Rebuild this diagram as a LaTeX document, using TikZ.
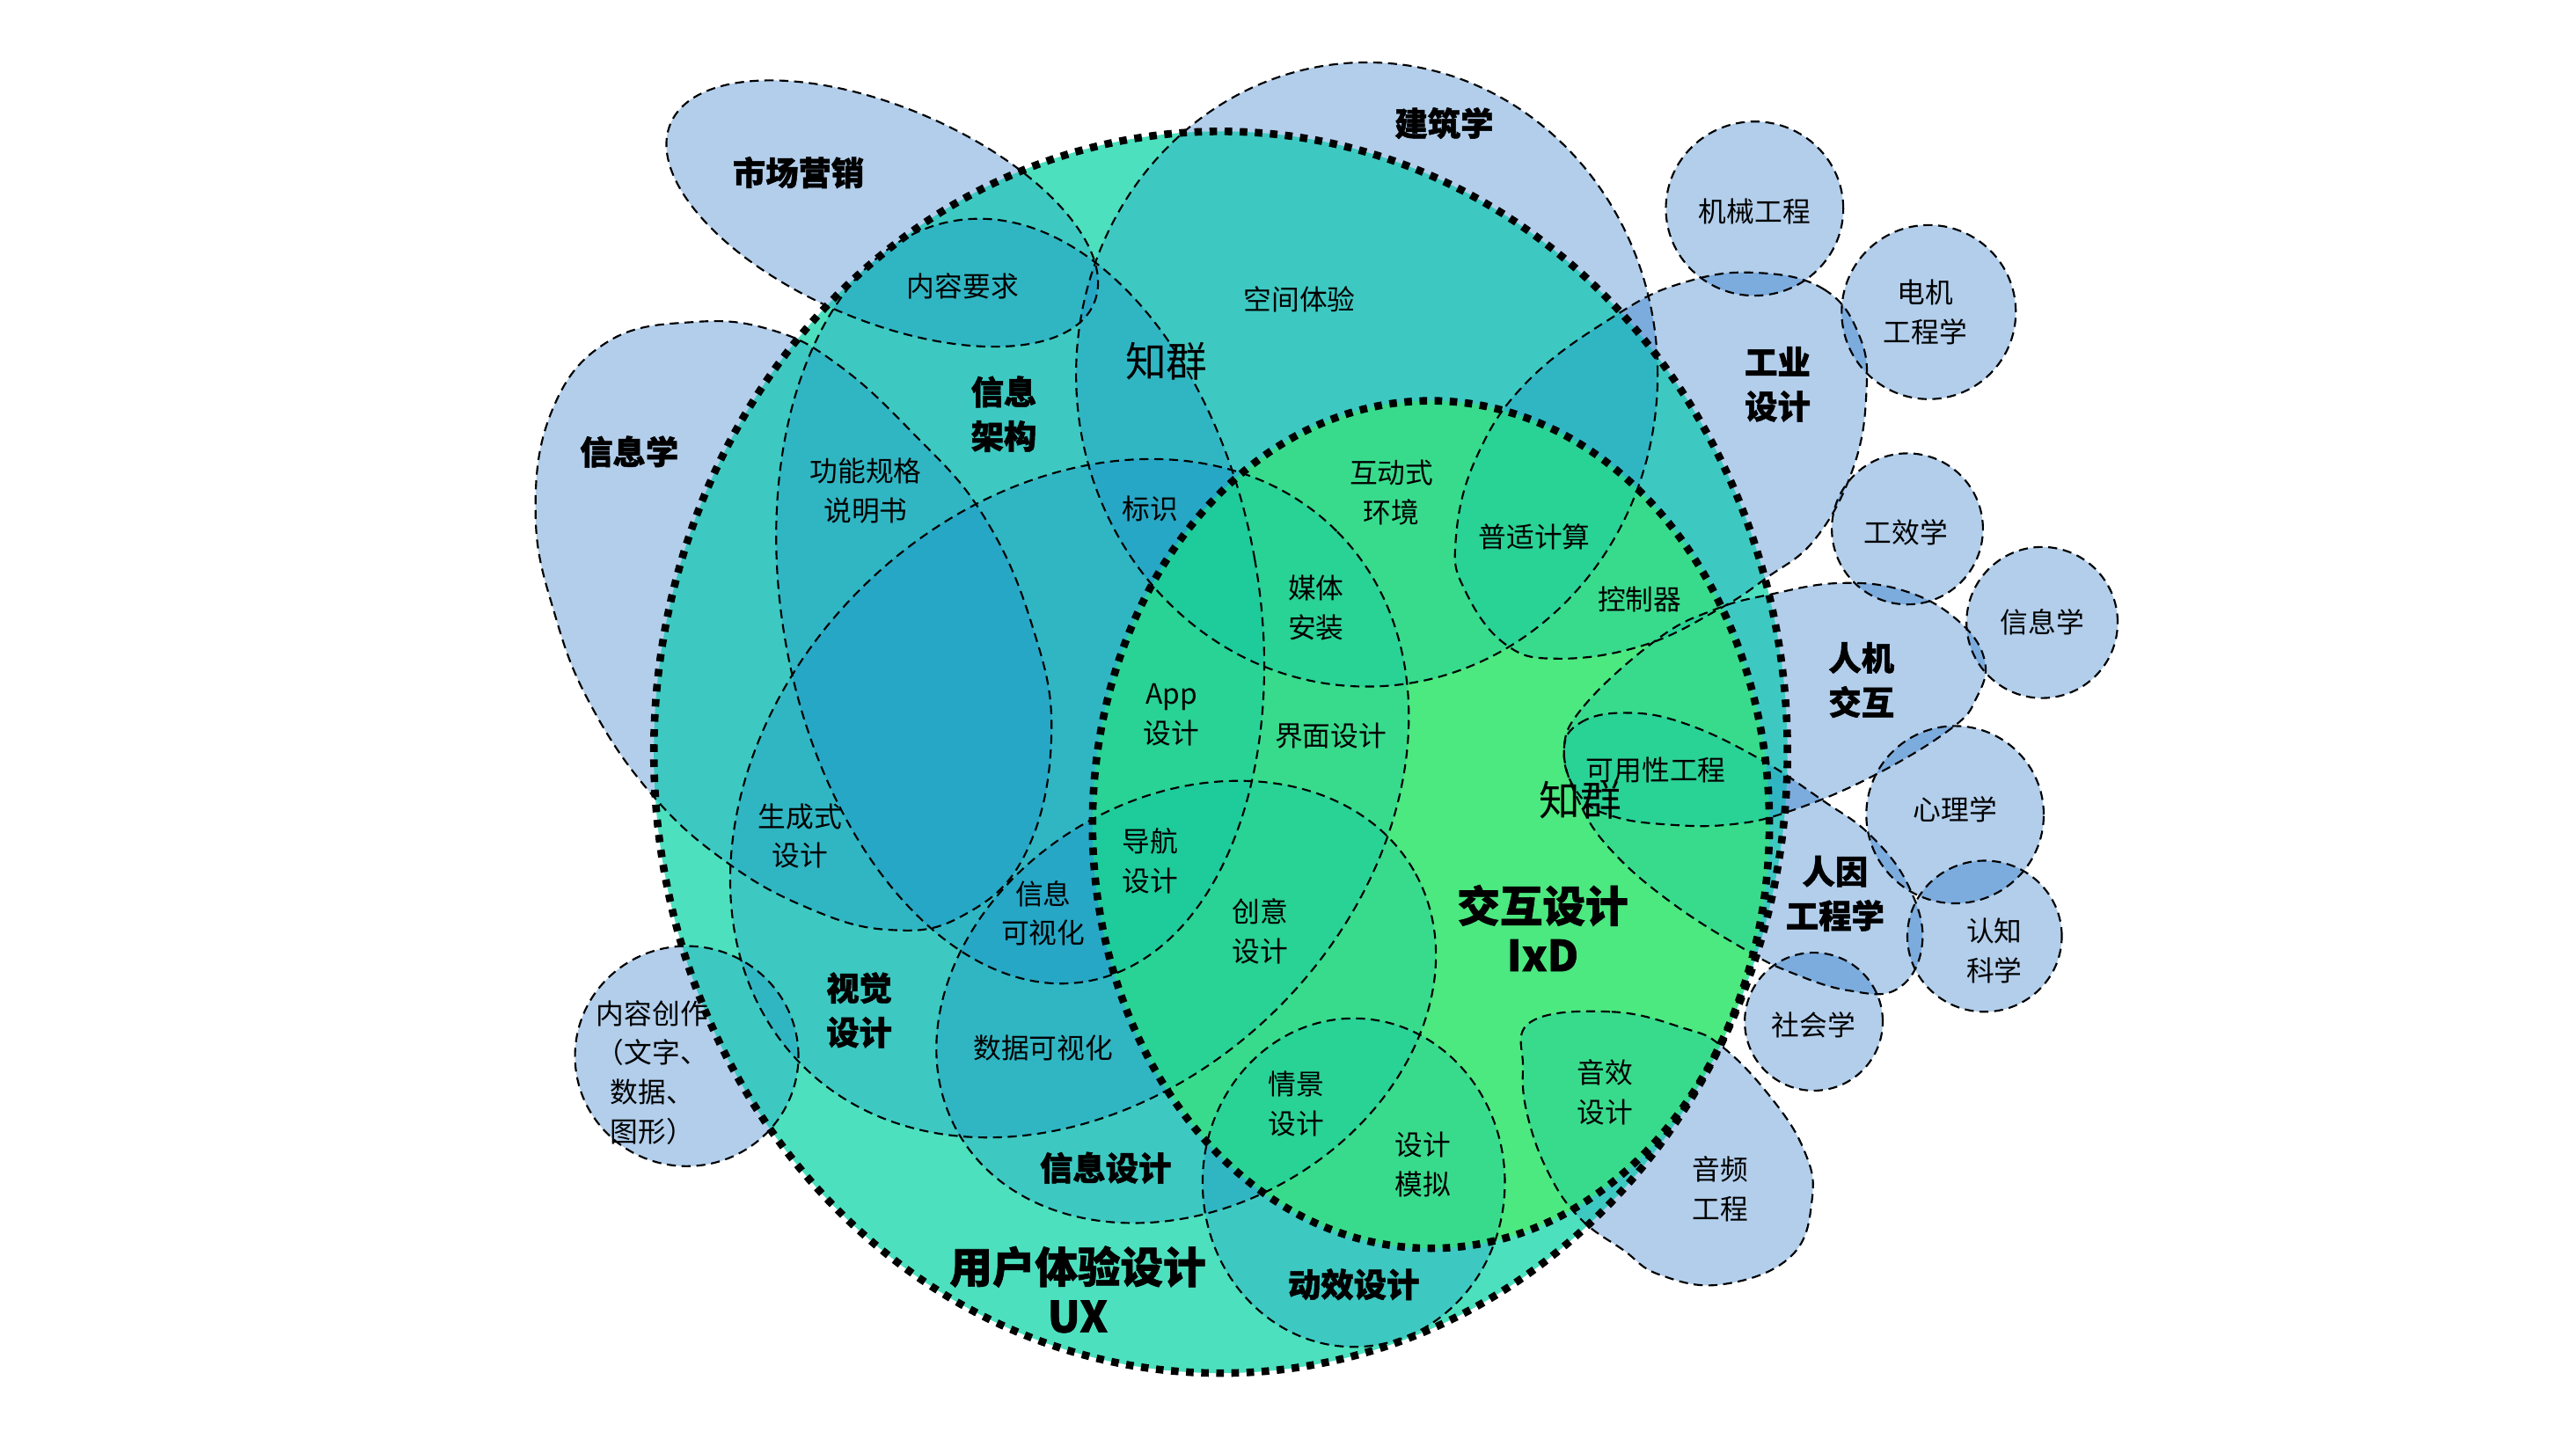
\documentclass[tikz,border=0pt]{standalone}
\usepackage{fontspec}
\newfontfamily\cjk{Noto Sans CJK SC}[BoldFeatures={FakeBold=1.3}]
\definecolor{outblue}{RGB}{0,95,192}
\definecolor{uxteal}{RGB}{77,224,191}
\definecolor{ovblue}{RGB}{0,110,205}
\definecolor{ixdgreen}{RGB}{76,232,128}
\definecolor{ovgreen}{RGB}{0,184,176}
\newcommand\shpMkt[1]{\path[#1,rotate around={-23:(537,130)}] (537,130) ellipse[x radius=140pt,y radius=65pt];}
\newcommand\shpArch[1]{\path[#1] (832,228) ellipse[x radius=177pt,y radius=190pt];}
\newcommand\shpInf[1]{\path[#1] plot[smooth cycle,tension=0.7] coordinates {(423,196) (470,201) (510,222) (555,263) (598,313) (628,380) (640,448) (624,520) (585,558) (540,566) (490,552) (441,524) (397,484) (360,430) (338,375) (326,314) (336,250) (370,208)};}
\newcommand\shpInd[1]{\path[#1] plot[smooth cycle,tension=0.7] coordinates {(1068,166) (1110,176) (1132,205) (1136,240) (1128,285) (1105,328) (1075,352) (1046,371) (1000,393) (948,401) (916,392) (892,360) (886,330) (898,280) (930,232) (985,191) (1025,172)};}
\newcommand\shpHCI[1]{\path[#1] plot[smooth cycle,tension=0.7] coordinates {(952,458) (964,430) (1009,389) (1044,371) (1077,362) (1120,355) (1160,360) (1192,378) (1208,402) (1203,425) (1187,444) (1139,473) (1089,494) (1053,502) (1015,502) (982,497) (962,485)};}
\newcommand\shpHF[1]{\path[#1] plot[smooth cycle,tension=0.7] coordinates {(952,458) (962,440) (991,434) (1027,441) (1071,462) (1109,487) (1139,509) (1162,540) (1170,575) (1155,602) (1125,603) (1090,592) (1062,578) (1018,550) (982,519) (962,490)};}
\newcommand\shpAud[1]{\path[#1] plot[smooth cycle,tension=0.7] coordinates {(932,622) (981,616) (1025,626) (1048,637) (1077,667) (1098,700) (1103,730) (1090,765) (1048,782) (1010,776) (988,761) (962,742) (943,715) (930,680) (927,650)};}
\newcommand\shpCC[1]{\path[#1] (418,643) ellipse[x radius=68pt,y radius=67pt];}
\newcommand\shpMech[1]{\path[#1] (1068,127) ellipse[x radius=54pt,y radius=53pt];}
\newcommand\shpElec[1]{\path[#1] (1174,190) circle[radius=53pt];}
\newcommand\shpErgo[1]{\path[#1] (1161,322) circle[radius=46pt];}
\newcommand\shpInfR[1]{\path[#1] (1243,379) circle[radius=46pt];}
\newcommand\shpPsy[1]{\path[#1] (1190,496) circle[radius=54pt];}
\newcommand\shpCog[1]{\path[#1] (1208,570) ellipse[x radius=47pt,y radius=46pt];}
\newcommand\shpSoc[1]{\path[#1] (1104,622) circle[radius=42pt];}
\newcommand\shpIA[1]{\path[#1,rotate around={10:(621,366)}] (621,366) ellipse[x radius=145pt,y radius=235pt];}
\newcommand\shpVD[1]{\path[#1,rotate around={45:(651,486)}] (651,486) ellipse[x radius=230pt,y radius=180pt];}
\newcommand\shpID[1]{\path[#1,rotate around={30:(722,610)}] (722,610) ellipse[x radius=160pt,y radius=125pt];}
\newcommand\shpMo[1]{\path[#1] (824,720) ellipse[x radius=92pt,y radius=100pt];}
\newcommand\shpUX[1]{\path[#1] (743,458) ellipse[x radius=345pt,y radius=378pt];}
\newcommand\shpIxD[1]{\path[#1] (871,502) ellipse[x radius=206pt,y radius=258pt];}
\begin{document}
\begin{tikzpicture}[x=1pt,y=-1pt,
    lbl/.style={font=\cjk\fontsize{17pt}{24pt}\selectfont,align=center,inner sep=0pt},
    hd/.style={font=\cjk\bfseries\fontsize{20pt}{27pt}\selectfont,align=center,inner sep=0pt},
    bighd/.style={font=\cjk\bfseries\fontsize{26pt}{30pt}\selectfont,align=center,inner sep=0pt},
    wm/.style={font=\cjk\fontsize{25pt}{25pt}\selectfont,inner sep=0pt},
    outfill/.style={fill=outblue,fill opacity=0.3},
    uxfill/.style={fill=ovblue,fill opacity=0.2},
    ixdfill/.style={fill=ovgreen,fill opacity=0.25},
    dashline/.style={draw=black,line width=1.15pt,dash pattern=on 5.5pt off 3.5pt},
    dotline/.style={draw=black,line width=4.6pt,dash pattern=on 4.6pt off 4.6pt}]
  \useasboundingbox[fill=white] (0,0) rectangle (1568,876);
  \shpMkt{outfill} \shpArch{outfill} \shpInf{outfill} \shpInd{outfill}
  \shpHCI{outfill} \shpHF{outfill} \shpAud{outfill} \shpCC{outfill}
  \shpMech{outfill} \shpElec{outfill} \shpErgo{outfill} \shpInfR{outfill}
  \shpPsy{outfill} \shpCog{outfill} \shpSoc{outfill}
  \shpUX{fill=uxteal}
  \begin{scope}
    \shpUX{clip}
    \shpMkt{uxfill} \shpArch{uxfill} \shpInf{uxfill} \shpInd{uxfill}
    \shpHCI{uxfill} \shpHF{uxfill} \shpAud{uxfill} \shpCC{uxfill}
    \shpIA{uxfill} \shpVD{uxfill} \shpID{uxfill} \shpMo{uxfill}
  \end{scope}
  \shpIxD{fill=ixdgreen}
  \begin{scope}
    \shpIxD{clip}
    \shpArch{ixdfill} \shpInd{ixdfill} \shpHCI{ixdfill} \shpHF{ixdfill}
    \shpAud{ixdfill} \shpIA{ixdfill} \shpVD{ixdfill} \shpID{ixdfill} \shpMo{ixdfill}
  \end{scope}
  \shpMkt{dashline} \shpArch{dashline} \shpInf{dashline} \shpInd{dashline}
  \shpHCI{dashline} \shpHF{dashline} \shpAud{dashline} \shpCC{dashline}
  \shpMech{dashline} \shpElec{dashline} \shpErgo{dashline} \shpInfR{dashline}
  \shpPsy{dashline} \shpCog{dashline} \shpSoc{dashline}
  \shpIA{dashline} \shpVD{dashline} \shpID{dashline} \shpMo{dashline}
  \shpUX{dotline}
  \shpIxD{dotline}

  \node[hd] (mkt) at (486,105) {市场营销};
  \node[hd] (arch) at (879,75) {建筑学};
  \node[lbl] (mech) at (1068,129) {机械工程};
  \node[lbl] (elec) at (1172,190) {电机\\工程学};
  \node[hd] (ind) at (1082,234) {工业\\设计};
  \node[lbl] (ergo) at (1160,324) {工效学};
  \node[lbl] (infr) at (1243,379) {信息学};
  \node[hd] (hci) at (1133,414) {人机\\交互};
  \node[lbl] (psy) at (1190,493) {心理学};
  \node[hd] (hf) at (1117,544) {人因\\工程学};
  \node[lbl] (cog) at (1214,579) {认知\\科学};
  \node[lbl] (soc) at (1104,624) {社会学};
  \node[lbl] (aud) at (1047,724) {音频\\工程};
  \node[hd] (infl) at (383,275) {信息学};
  \node[lbl] (cc) at (397,653) {内容创作\\（文字、\\数据、\\图形）};
  \node[lbl] (creq) at (586,174) {内容要求};
  \node[lbl] (space) at (791,182) {空间体验};
  \node[wm] (wm1) at (710,220) {知群};
  \node[hd] (ia) at (611,252) {信息\\架构};
  \node[lbl] (spec) at (527,299) {功能规格\\说明书};
  \node[lbl] (sign) at (700,310) {标识};
  \node[lbl] (env) at (847,300) {互动式\\环境};
  \node[lbl] (ubi) at (934,327) {普适计算};
  \node[lbl] (media) at (801,370) {媒体\\安装};
  \node[lbl] (ctrl) at (998,365) {控制器};
  \node[lbl] (app) at (713,435) {App\\设计};
  \node[lbl] (ui) at (810,448) {界面设计};
  \node[lbl] (usab) at (1008,469) {可用性工程};
  \node[wm] (wm2) at (962,487) {知群};
  \node[lbl] (gen) at (487,509) {生成式\\设计};
  \node[lbl] (nav) at (700,524) {导航\\设计};
  \node[lbl] (infovis) at (635,556) {信息\\可视化};
  \node[bighd] (ixd) at (939,565) {交互设计\\IxD};
  \node[lbl] (creative) at (767,567) {创意\\设计};
  \node[hd] (vd) at (523,615) {视觉\\设计};
  \node[lbl] (datavis) at (635,638) {数据可视化};
  \node[lbl] (scen) at (789,672) {情景\\设计};
  \node[lbl] (sound) at (977,665) {音效\\设计};
  \node[lbl] (proto) at (866,709) {设计\\模拟};
  \node[hd] (idsg) at (673,711) {信息设计};
  \node[bighd] (ux) at (656,785) {用户体验设计\\UX};
  \node[hd] (motion) at (824,782) {动效设计};
\end{tikzpicture}
\end{document}
